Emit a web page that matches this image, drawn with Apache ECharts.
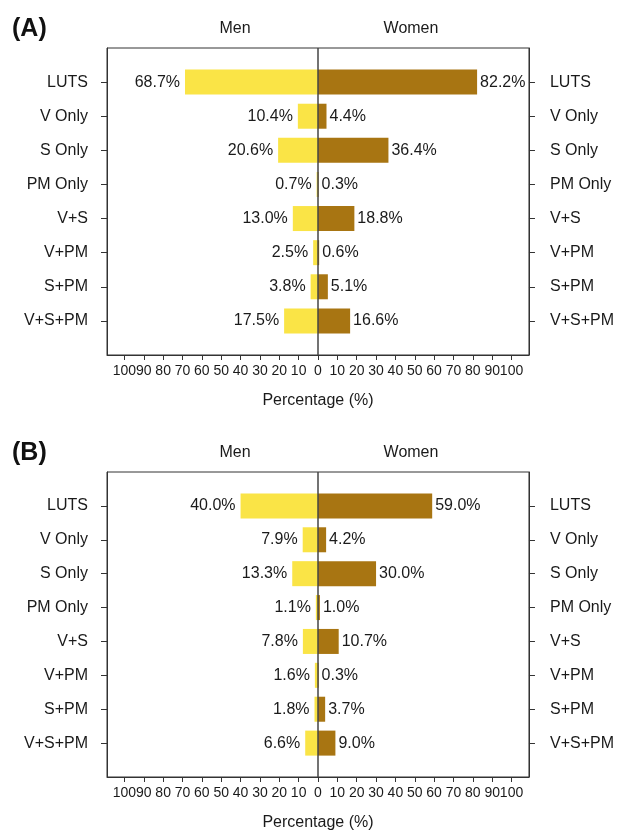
<!DOCTYPE html>
<html>
<head>
<meta charset="utf-8">
<script src="https://cdn.jsdelivr.net/npm/echarts@6/dist/echarts.min.js"></script>
<style>
  html, body { margin: 0; padding: 0; background: #fff; }
  #chart { width: 617px; height: 832px; }
</style>
</head>
<body>
<div id="chart"></div>
<script>
const categories = ['LUTS', 'V Only', 'S Only', 'PM Only', 'V+S', 'V+PM', 'S+PM', 'V+S+PM'];
const menA   = [68.7, 10.4, 20.6, 0.7, 13.0, 2.5, 3.8, 17.5];
const womenA = [82.2, 4.4, 36.4, 0.3, 18.8, 0.6, 5.1, 16.6];
const menB   = [40.0, 7.9, 13.3, 1.1, 7.8, 1.6, 1.8, 6.6];
const womenB = [59.0, 4.2, 30.0, 1.0, 10.7, 0.3, 3.7, 9.0];
const tickValues = [-100, -90, -80, -70, -60, -50, -40, -30, -20, -10, 0, 10, 20, 30, 40, 50, 60, 70, 80, 90, 100];
const panelLabels = ['(A)', '(B)'];
const groupNames = ['Men', 'Women'];

const FONT = '"Liberation Sans", Arial, Helvetica, sans-serif';
const TXT = '#1a1a1a';
const YELLOW = '#FAE446';
const BROWN = '#A87512';

const yCats = [''].concat(categories, ['']);
const padData = arr => ['-'].concat(arr, ['-']);

const chart = echarts.init(document.getElementById('chart'), null, { renderer: 'canvas' });

const panelTops = [48, 472];
const grids = [], xAxes = [], yAxes = [], series = [], titles = [];

function yAxisDef(p, pos, margin) {
  return {
    gridIndex: p, type: 'category', data: yCats, boundaryGap: false, inverse: true,
    position: pos,
    axisLine: { show: true, onZero: false, lineStyle: { color: '#333', width: 1 } },
    axisTick: { show: true, length: 6, inside: false, alignWithLabel: true,
      interval: (i, v) => v !== '', lineStyle: { color: '#333', width: 1 } },
    axisLabel: { interval: 0, margin: margin, fontFamily: FONT, fontSize: 16, color: TXT },
    splitLine: { show: false }
  };
}

panelTops.forEach((top, p) => {
  grids.push({ left: 107, width: 422, top: top, height: 307, show: true, borderColor: '#333', borderWidth: 1, containLabel: false });
  xAxes.push({
    gridIndex: p, type: 'value', min: -109, max: 109,
    name: 'Percentage (%)', nameLocation: 'middle', nameGap: 38,
    nameTextStyle: { fontFamily: FONT, fontSize: 16, color: TXT },
    axisLine: { show: true, onZero: false, lineStyle: { color: '#333', width: 1 } },
    axisTick: { show: true, length: 5, customValues: tickValues, lineStyle: { color: '#333' } },
    axisLabel: { customValues: tickValues, margin: 9, fontFamily: FONT, fontSize: 14, color: TXT,
      formatter: v => String(Math.abs(v)) },
    splitLine: { show: false }
  });
  yAxes.push(yAxisDef(p, 'left', 19));
  yAxes.push(yAxisDef(p, 'right', 21));

  const men = p === 0 ? menA : menB;
  const women = p === 0 ? womenA : womenB;
  series.push({
    name: groupNames[0], type: 'bar', xAxisIndex: p, yAxisIndex: p * 2,
    data: padData(men.map(v => -v)), barWidth: 25, barGap: '-100%',
    itemStyle: { color: YELLOW },
    label: { show: true, position: 'left', distance: 5, fontFamily: FONT, fontSize: 16, color: TXT,
      formatter: d => Math.abs(d.value).toFixed(1) + '%' },
    silent: true, animation: false
  });
  series.push({
    name: groupNames[1], type: 'bar', xAxisIndex: p, yAxisIndex: p * 2,
    data: padData(women), barWidth: 25, barGap: '-100%',
    itemStyle: { color: BROWN },
    label: { show: true, position: 'right', distance: 3, fontFamily: FONT, fontSize: 16, color: TXT,
      formatter: d => Number(d.value).toFixed(1) + '%' },
    markLine: { silent: true, symbol: 'none', label: { show: false },
      lineStyle: { color: '#444', width: 1.5, type: 'solid' },
      data: [{ xAxis: 0 }], animation: false },
    silent: true, animation: false
  });

  titles.push({ text: panelLabels[p], left: 7, top: top - 36,
    textStyle: { fontFamily: FONT, fontSize: 25, fontWeight: 'bold', color: '#111' } });
  titles.push({ text: groupNames[0], left: 230, top: top - 32, textAlign: 'center',
    textStyle: { fontFamily: FONT, fontSize: 16, fontWeight: 'normal', color: TXT } });
  titles.push({ text: groupNames[1], left: 406, top: top - 32, textAlign: 'center',
    textStyle: { fontFamily: FONT, fontSize: 16, fontWeight: 'normal', color: TXT } });
});

chart.setOption({
  animation: false,
  backgroundColor: '#fff',
  title: titles,
  grid: grids,
  xAxis: xAxes,
  yAxis: yAxes,
  series: series
});
</script>
</body>
</html>
